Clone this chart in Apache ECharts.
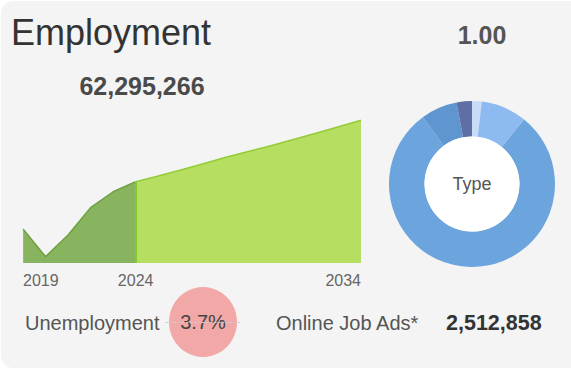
<!DOCTYPE html>
<html>
<head>
<meta charset="utf-8">
<script src="https://cdn.jsdelivr.net/npm/echarts@6/dist/echarts.min.js"></script>
<style>
html,body{margin:0;padding:0;background:#fff;width:571px;height:372px;overflow:hidden;}
#card{position:absolute;left:1px;top:1px;width:590px;height:367px;background:#f4f4f4;border-radius:12px;}
#chart{position:absolute;left:0;top:0;width:571px;height:372px;}
</style>
</head>
<body>
<div id="card"></div>
<div id="chart"></div>
<script>
// ---- data ----
var years = ['2019','2020','2021','2022','2023','2024','2025','2026','2027','2028','2029','2030','2031','2032','2033','2034'];
var historical = [58050000, 55570000, 57510000, 59970000, 61400000, 62295266, null, null, null, null, null, null, null, null, null, null];
var projected = [null, null, null, null, null, 62295266, 62810000, 63350000, 63920000, 64490000, 65010000, 65530000, 66090000, 66650000, 67230000, 67830000];
var shownYearLabels = ['2019', '2024', '2034'];
var typeNames = ['Type A', 'Type B', 'Type C', 'Type D', 'Type E'];
var typeShares = [0.019, 0.089, 0.791, 0.071, 0.030];
var typeColors = ['#c6dcf7', '#8dbbf1', '#6ca5de', '#5f96d0', '#5d6fa4'];
var titleText = 'Employment';
var employmentTotal = '62,295,266';
var typeTotal = '1.00';
var unemploymentLabel = 'Unemployment';
var unemploymentRate = [3.7];
var jobAdsLabel = 'Online Job Ads*';
var jobAdsValue = '2,512,858';
var centerLabel = 'Type';

var FONT = '"Liberation Sans", Arial, Helvetica, sans-serif';
var chart = echarts.init(document.getElementById('chart'), null, {renderer: 'svg'});

var option = {
  backgroundColor: 'transparent',
  animation: false,
  grid: [
    {left: 23, right: 210, top: 96, bottom: 109},
    {left: 166, width: 74, top: 302, height: 40}
  ],
  xAxis: [
    {
      gridIndex: 0, type: 'category', data: years, boundaryGap: false, z: 5,
      axisLine: {show: false}, axisTick: {show: false},
      splitLine: {show: true, lineStyle: {color: 'rgba(255,255,255,0.13)', width: 1}},
      axisLabel: {
        margin: 9, color: '#666', fontSize: 16, fontFamily: FONT,
        alignMinLabel: 'left', alignMaxLabel: 'right',
        interval: function (i, v) { return shownYearLabels.indexOf(v) >= 0; }
      }
    },
    {
      gridIndex: 1, type: 'value', min: 0, max: 7.4, z: 10,
      axisLine: {show: true, onZero: true, lineStyle: {color: '#d9c6c6', type: [2, 2], width: 1}},
      axisTick: {show: false}, axisLabel: {show: false}, splitLine: {show: false}
    }
  ],
  yAxis: [
    {gridIndex: 0, type: 'value', min: 55000000, max: 70000000, show: false, splitLine: {show: false}},
    {gridIndex: 1, type: 'value', min: -1, max: 1, show: false}
  ],
  series: [
    {
      type: 'line', xAxisIndex: 0, yAxisIndex: 0, data: historical, symbol: 'none', z: 2,
      lineStyle: {color: '#6ea23f', width: 1.5},
      areaStyle: {color: '#88b35f', opacity: 1}
    },
    {
      type: 'line', xAxisIndex: 0, yAxisIndex: 0, data: projected, symbol: 'none', z: 3,
      lineStyle: {color: '#92cc37', width: 1.5},
      areaStyle: {color: '#b6de61', opacity: 1},
      markLine: {
        silent: true, symbol: 'none', label: {show: false},
        lineStyle: {color: '#86c92a', width: 2, type: 'solid'},
        data: [[{coord: ['2024', 55000000]}, {coord: ['2024', projected[5]]}]]
      }
    },
    {
      type: 'pie', center: [472, 184], radius: [47.5, 83], startAngle: 90, clockwise: true,
      label: {show: false}, labelLine: {show: false}, silent: true, z: 2,
      data: typeShares.map(function (v, i) { return {name: typeNames[i], value: v, itemStyle: {color: typeColors[i]}}; })
    },
    {
      type: 'pie', center: [472, 184], radius: [0, 47.5], silent: true, z: 3,
      label: {show: true, position: 'center', formatter: centerLabel, color: '#555', fontSize: 18, fontFamily: FONT},
      labelLine: {show: false},
      data: [{name: centerLabel, value: 1, itemStyle: {color: '#ffffff'}}]
    },
    {
      type: 'scatter', xAxisIndex: 1, yAxisIndex: 1, z: 2,
      data: unemploymentRate.map(function (v) { return [v, 0]; }),
      symbol: 'circle', symbolSize: [68, 70],
      itemStyle: {color: '#f3a8a8', opacity: 1},
      label: {show: true, position: 'inside', formatter: function (p) { return p.value[0] + '%'; },
              color: '#444', fontSize: 20, fontFamily: FONT}
    }
  ],
  graphic: [
    {type: 'text', left: 11, top: 14, style: {text: titleText, fill: '#333', fontSize: 36, fontFamily: FONT}},
    {type: 'text', x: 142, y: 86, style: {text: employmentTotal, fill: '#4a4a4a', fontSize: 25, fontWeight: 'bold', fontFamily: FONT, align: 'center', verticalAlign: 'middle'}},
    {type: 'text', x: 482, y: 35, style: {text: typeTotal, fill: '#555', fontSize: 25, fontWeight: 'bold', fontFamily: FONT, align: 'center', verticalAlign: 'middle'}},
    {type: 'text', x: 25, y: 323, style: {text: unemploymentLabel, fill: '#555', fontSize: 20, fontFamily: FONT, align: 'left', verticalAlign: 'middle'}},
    {type: 'text', x: 276, y: 323, style: {text: jobAdsLabel, fill: '#555', fontSize: 20, fontFamily: FONT, align: 'left', verticalAlign: 'middle'}},
    {type: 'text', x: 446, y: 323, style: {text: jobAdsValue, fill: '#333', fontSize: 21.5, fontWeight: 'bold', fontFamily: FONT, align: 'left', verticalAlign: 'middle'}}
  ]
};
chart.setOption(option);
</script>
</body>
</html>
